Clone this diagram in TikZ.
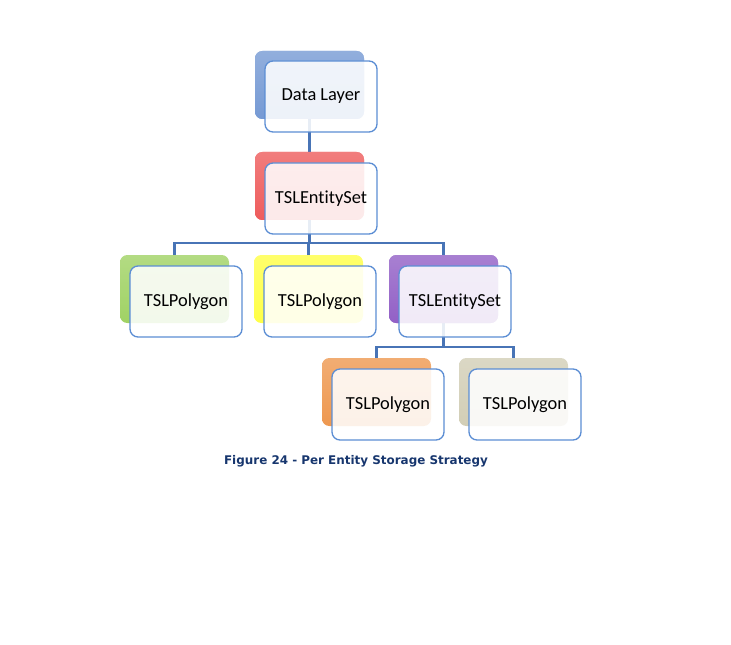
\documentclass[tikz,border=0pt]{standalone}
\usepackage{fontspec}
\setmainfont[Ligatures={NoCommon,NoContextual}]{Carlito}
\newfontfamily\capfont{DejaVu Sans}
\begin{document}
\begin{tikzpicture}[x=0.75pt,y=-0.75pt]
\definecolor{cblue}{RGB}{118,154,212}
\definecolor{cred}{RGB}{238,92,92}
\definecolor{cgreen}{RGB}{160,210,100}
\definecolor{cyellow}{RGB}{255,255,70}
\definecolor{cpurple}{RGB}{146,96,198}
\definecolor{corange}{RGB}{238,152,80}
\definecolor{cbeige}{RGB}{210,206,182}
\definecolor{fborder}{RGB}{92,142,212}
\definecolor{connc}{RGB}{72,116,182}
\definecolor{capc}{RGB}{23,54,110}
\tikzset{
  backbox/.style={rectangle, rounded corners=5.5pt, inner sep=0pt, outer sep=0pt,
    minimum width=81.75pt, minimum height=51pt, top color=#1!80!white, bottom color=#1},
  frontbox/.style={rectangle, rounded corners=6pt, inner sep=0pt, outer sep=0pt,
    minimum width=84pt, minimum height=53.25pt, draw=fborder, line width=1pt,
    fill=white, fill opacity=0.87, text opacity=1, font=\fontsize{13.8}{16}\selectfont},
  conn/.style={draw=connc, line width=2.1pt},
  caption/.style={font=\capfont\bfseries\fontsize{8.95}{12}\selectfont, text=capc, inner sep=0pt}
}
\useasboundingbox (0,0) rectangle (731,645);
% back boxes (centers = top-left + (54.5,34))
\node[backbox=cblue]   (dlb) at (309.5,85) {};
\node[backbox=cred]    (teb) at (309.5,186) {};
\node[backbox=cgreen]  (gb)  at (174.5,289) {};
\node[backbox=cyellow] (yb)  at (308.5,289) {};
\node[backbox=cpurple] (pb)  at (443.5,289) {};
\node[backbox=corange] (ob)  at (376.5,392) {};
\node[backbox=cbeige]  (bb)  at (513.5,392) {};
% bus levels
\coordinate (bus1) at (0,243);
\coordinate (bus2) at (0,347);
% connectors
\draw[conn] (dlb.center) -- (teb.north);
\draw[conn] (teb.center) -- (teb.center |- bus1);
\draw[conn] (gb.north) -- (gb.north |- bus1) -- (pb.north |- bus1) -- (pb.north);
\draw[conn] (yb.north) -- (yb.north |- bus1);
\draw[conn] (pb.center) -- (pb.center |- bus2);
\draw[conn] (ob.north) -- (ob.north |- bus2) -- (bb.north |- bus2) -- (bb.north);
% redraw back boxes over connector stubs
\node[backbox=cblue]   at (dlb) {};
\node[backbox=cred]    at (teb) {};
\node[backbox=cpurple] at (pb) {};
% front boxes (centers = back top-left + (66,46.5))
\node[frontbox] (dl)  at (321,96.5)  {Data Layer};
\node[frontbox] (te)  at (321,198.5) {TSLEntitySet};
\node[frontbox] (g)   at (186,301.5) {TSLPolygon};
\node[frontbox] (y)   at (320,301.5) {TSLPolygon};
\node[frontbox] (p)   at (455,301.5) {TSLEntitySet};
\node[frontbox] (o)   at (388,404.5) {TSLPolygon};
\node[frontbox] (b)   at (525,404.5) {TSLPolygon};
\node[caption] (cap) at (356,461) {Figure 24 - Per Entity Storage Strategy};
\end{tikzpicture}
\end{document}
